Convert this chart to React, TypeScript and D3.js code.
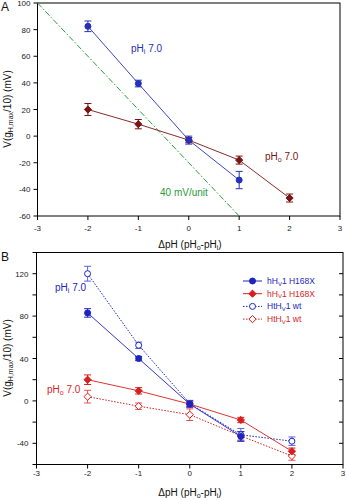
import React from "react";
import * as d3 from "d3";

// ---------- Data ----------
const xTicks = [-3, -2, -1, 0, 1, 2, 3];

// Panel A
const aBlueX = [-2, -1, 0, 1];
const aBlueY = [82.5, 39.5, -3, -33];
const aBlueErr = [4, 2.5, 3, 6.5];
const aRedX = [-2, -1, 0, 1, 2];
const aRedY = [20, 9, -3, -18, -46.5];
const aRedErr = [4.5, 3.5, 2, 3, 3];
const aGreenX = [-3, 1];
const aGreenY = [100, -60];
const aYTicks = [-60, -40, -20, 0, 20, 40, 60, 80, 100];

// Panel B
const bBlueFX = [-2, -1, 0, 1];
const bBlueFY = [83, 40, -3, -33.5];
const bBlueFErr = [4, 2, 3, 4.5];
const bRedFX = [-2, -1, 0, 1, 2];
const bRedFY = [20, 9.5, -3, -18, -47.5];
const bRedFErr = [4.5, 3, 2, 2.5, 3];
const bBlueOX = [-2, -1, 0, 1, 2];
const bBlueOY = [120, 52.5, -2.5, -32, -38];
const bBlueOErr = [7, 3, 3, 6, 4];
const bRedOX = [-2, -1, 0, 1, 2];
const bRedOY = [4, -5, -13, -33, -52];
const bRedOErr = [6, 3, 5.5, 4, 4];
const bYMajor = [-40, 0, 40, 80, 120];
const bYMinor = [-60, -40, -20, 0, 20, 40, 60, 80, 100, 120, 140];

const legendLabels = ["hH", "hH", "HtH", "HtH"];
const legendSuffix = ["1 H168X", "1 H168X", "1 wt", "1 wt"];

const FONT = "Liberation Sans, Arial, sans-serif";

type Pt = { x: number; y: number; e: number };
const zip = (xs: number[], ys: number[], es: number[]): Pt[] =>
  xs.map((x, i) => ({ x, y: ys[i], e: es[i] }));

function ErrBars({ pts, xs, ys, color }: { pts: Pt[]; xs: any; ys: any; color: string }) {
  return (
    <g stroke={color} strokeWidth={1}>
      {pts.map((p, i) => (
        <g key={i}>
          <line x1={xs(p.x)} x2={xs(p.x)} y1={ys(p.y - p.e)} y2={ys(p.y + p.e)} />
          <line x1={xs(p.x) - 3.5} x2={xs(p.x) + 3.5} y1={ys(p.y - p.e)} y2={ys(p.y - p.e)} />
          <line x1={xs(p.x) - 3.5} x2={xs(p.x) + 3.5} y1={ys(p.y + p.e)} y2={ys(p.y + p.e)} />
        </g>
      ))}
    </g>
  );
}

function Circle({ cx, cy, color, open }: any) {
  return <circle cx={cx} cy={cy} r={3} fill={open ? "white" : color} stroke={color} strokeWidth={1} />;
}
function Diamond({ cx, cy, color, open }: any) {
  const r = 3.6;
  return (
    <path
      d={`M${cx},${cy - r}L${cx + r},${cy}L${cx},${cy + r}L${cx - r},${cy}Z`}
      fill={open ? "white" : color}
      stroke={color}
      strokeWidth={1}
    />
  );
}

function XAxis({ xs, y, labelY, titleY }: any) {
  return (
    <g>
      {xTicks.map((t) => (
        <g key={t}>
          <line x1={xs(t)} x2={xs(t)} y1={y} y2={y + 4} stroke="#000" />
          <text x={xs(t)} y={labelY} fontSize={8} textAnchor="middle" fill="#222" fontFamily={FONT}>
            {t}
          </text>
        </g>
      ))}
      <text x={190} y={titleY} fontSize={10} textAnchor="middle" fill="#111" fontFamily={FONT}>
        ΔpH (pH<tspan fontSize={7} dy={2}>o</tspan>
        <tspan dy={-2}>-pH</tspan>
        <tspan fontSize={7} dy={2}>i</tspan>
        <tspan dy={-2}>)</tspan>
      </text>
    </g>
  );
}

function YTitle({ x, y }: any) {
  return (
    <text
      transform={`translate(${x},${y}) rotate(-90)`}
      fontSize={10}
      textAnchor="middle"
      fill="#111"
      fontFamily={FONT}
    >
      V(g<tspan fontSize={7} dy={2}>H,max</tspan>
      <tspan dy={-2}>/10) (mV)</tspan>
    </text>
  );
}

export default function App() {
  // Panel A scales
  const xA = d3.scaleLinear().domain([-3, 3]).range([37.5, 340]);
  const yA = d3.scaleLinear().domain([-60, 100]).range([216, 3]);
  // Panel B scales
  const xB = d3.scaleLinear().domain([-3, 3]).range([36.5, 343]);
  const yB = d3.scaleLinear().domain([-60, 140]).range([464.5, 252.5]);

  const lineA = d3.line<Pt>().x((d) => xA(d.x)).y((d) => yA(d.y));
  const lineB = d3.line<Pt>().x((d) => xB(d.x)).y((d) => yB(d.y));

  const aBlue = zip(aBlueX, aBlueY, aBlueErr);
  const aRed = zip(aRedX, aRedY, aRedErr);
  const aGreen = zip(aGreenX, aGreenY, [0, 0]);

  const bBlueF = zip(bBlueFX, bBlueFY, bBlueFErr);
  const bRedF = zip(bRedFX, bRedFY, bRedFErr);
  const bBlueO = zip(bBlueOX, bBlueOY, bBlueOErr);
  const bRedO = zip(bRedOX, bRedOY, bRedOErr);

  const blueA = "#2630b8";
  const redA = "#7a1414";
  const green = "#2a9a3a";
  const blueB = "#1c24c0";
  const redB = "#d81e1e";
  const blueBL = "#5866e0";
  const redBL = "#e85050";

  const legendColors = [blueB, redB, blueB, redB];
  const legendY0 = 281;

  return (
    <svg width={346} height={500} style={{ position: "absolute", left: 0, top: 0, background: "white" }}>
      <rect x={0} y={0} width={346} height={500} fill="white" />
      {/* ================= Panel A ================= */}
      <text x={1} y={11} fontSize={12} fontFamily={FONT} fill="#111">A</text>
      <rect x={xA(-3)} y={yA(100)} width={xA(3) - xA(-3)} height={yA(-60) - yA(100)} fill="none" stroke="#000" strokeWidth={1} />
      {aYTicks.map((t) => (
        <g key={t}>
          <line x1={xA(-3) - 4} x2={xA(-3)} y1={yA(t)} y2={yA(t)} stroke="#000" />
          <text x={xA(-3) - 7} y={yA(t) + 3} fontSize={8} textAnchor="end" fill="#222" fontFamily={FONT}>
            {t}
          </text>
        </g>
      ))}
      <XAxis xs={xA} y={yA(-60)} labelY={231} titleY={248} />
      <YTitle x={11} y={109} />

      <path d={lineA(aGreen) || ""} fill="none" stroke={green} strokeWidth={1} strokeDasharray="6,2,1.5,2" />
      <path d={lineA(aRed) || ""} fill="none" stroke={redA} strokeWidth={0.9} />
      <path d={lineA(aBlue) || ""} fill="none" stroke={blueA} strokeWidth={0.9} />
      <ErrBars pts={aRed} xs={xA} ys={yA} color={redA} />
      <ErrBars pts={aBlue} xs={xA} ys={yA} color={blueA} />
      {aRed.map((p, i) => (
        <Diamond key={i} cx={xA(p.x)} cy={yA(p.y)} color={redA} />
      ))}
      {aBlue.map((p, i) => (
        <Circle key={i} cx={xA(p.x)} cy={yA(p.y)} color={blueA} />
      ))}

      <text x={131} y={52} fontSize={10} fill={blueA} fontFamily={FONT}>
        pH<tspan fontSize={7} dy={2}>i</tspan>
        <tspan dy={-2}> 7.0</tspan>
      </text>
      <text x={265} y={160} fontSize={10} fill={redA} fontFamily={FONT}>
        pH<tspan fontSize={7} dy={2}>o</tspan>
        <tspan dy={-2}> 7.0</tspan>
      </text>
      <text x={160} y={196} fontSize={10} fill={green} fontFamily={FONT}>
        40 mV/unit
      </text>

      {/* ================= Panel B ================= */}
      <text x={1} y={261} fontSize={12} fontFamily={FONT} fill="#111">B</text>
      <rect x={xB(-3)} y={yB(140)} width={xB(3) - xB(-3)} height={yB(-60) - yB(140)} fill="none" stroke="#000" strokeWidth={1} />
      {bYMinor.map((t) => (
        <g key={t}>
          <line x1={xB(-3) - 4} x2={xB(-3)} y1={yB(t)} y2={yB(t)} stroke="#000" />
          <line x1={xB(3) - 4} x2={xB(3)} y1={yB(t)} y2={yB(t)} stroke="#000" />
        </g>
      ))}
      {bYMajor.map((t) => (
        <text key={t} x={xB(-3) - 8} y={yB(t) + 3} fontSize={8} textAnchor="end" fill="#222" fontFamily={FONT}>
          {t}
        </text>
      ))}
      <XAxis xs={xB} y={yB(-60)} labelY={476} titleY={496} />
      <YTitle x={11} y={358} />

      <path d={lineB(bRedO) || ""} fill="none" stroke={redB} strokeWidth={1} strokeDasharray="1.5,1.5" />
      <path d={lineB(bBlueO) || ""} fill="none" stroke={blueB} strokeWidth={1} strokeDasharray="1.5,1.5" />
      <path d={lineB(bRedF) || ""} fill="none" stroke={redB} strokeWidth={0.9} />
      <path d={lineB(bBlueF) || ""} fill="none" stroke={blueB} strokeWidth={0.9} />
      <ErrBars pts={bRedO} xs={xB} ys={yB} color={redBL} />
      <ErrBars pts={bBlueO} xs={xB} ys={yB} color={blueBL} />
      <ErrBars pts={bRedF} xs={xB} ys={yB} color={redB} />
      <ErrBars pts={bBlueF} xs={xB} ys={yB} color={blueB} />
      {bRedO.map((p, i) => (
        <Diamond key={i} cx={xB(p.x)} cy={yB(p.y)} color={redB} open />
      ))}
      {bBlueO.map((p, i) => (
        <Circle key={i} cx={xB(p.x)} cy={yB(p.y)} color={blueB} open />
      ))}
      {bRedF.map((p, i) => (
        <Diamond key={i} cx={xB(p.x)} cy={yB(p.y)} color={redB} />
      ))}
      {bBlueF.map((p, i) => (
        <Circle key={i} cx={xB(p.x)} cy={yB(p.y)} color={blueB} />
      ))}

      <text x={55} y={291} fontSize={10} fill={blueB} fontFamily={FONT}>
        pH<tspan fontSize={7} dy={2}>i</tspan>
        <tspan dy={-2}> 7.0</tspan>
      </text>
      <text x={47} y={393} fontSize={10} fill={redB} fontFamily={FONT}>
        pH<tspan fontSize={7} dy={2}>o</tspan>
        <tspan dy={-2}> 7.0</tspan>
      </text>

      {/* Legend */}
      {legendLabels.map((lab, i) => {
        const y = legendY0 + i * 12.7;
        const c = legendColors[i];
        const open = i >= 2;
        return (
          <g key={i}>
            <line x1={243} x2={262} y1={y} y2={y} stroke={c} strokeWidth={1} strokeDasharray={open ? "1.5,1.5" : undefined} />
            {i % 2 === 0 ? (
              <Circle cx={252.5} cy={y} color={c} open={open} />
            ) : (
              <Diamond cx={252.5} cy={y} color={c} open={open} />
            )}
            <text x={267} y={y + 3} fontSize={8.5} fill={c} fontFamily={FONT}>
              {lab}
              <tspan fontSize={6} dy={1.5}>V</tspan>
              <tspan dy={-1.5}>{legendSuffix[i]}</tspan>
            </text>
          </g>
        );
      })}
    </svg>
  );
}
